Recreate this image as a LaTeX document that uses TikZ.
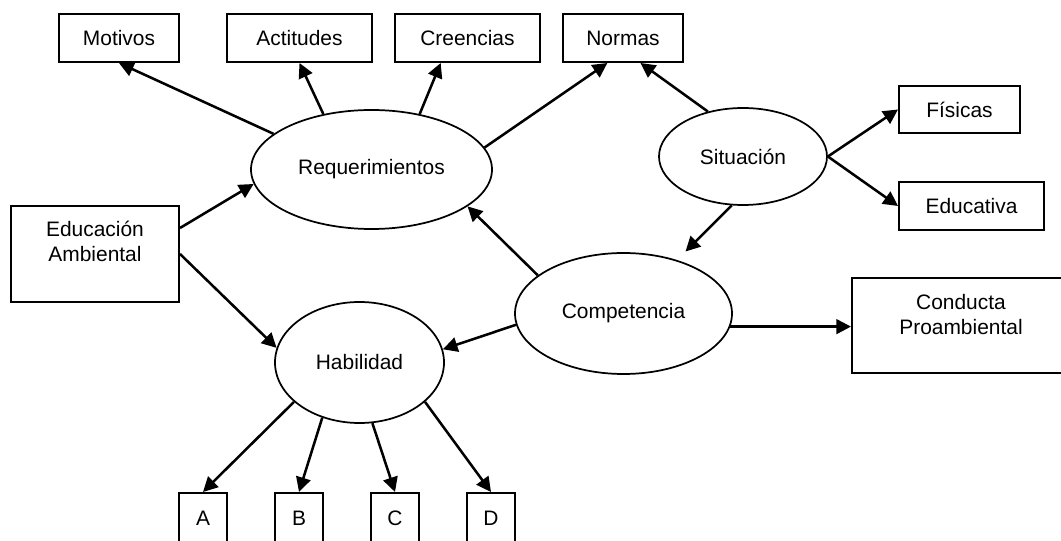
\documentclass[tikz,border=0pt]{standalone}
\usepackage{fontspec}
\setmainfont{Liberation Sans}
\usetikzlibrary{shapes.geometric,arrows.meta}

\begin{document}
\begin{tikzpicture}[x=0.75pt,y=-0.75pt,
  font=\fontsize{15.7}{18.75}\selectfont,
  box node/.style={rectangle,draw,line width=1.5pt,inner sep=0pt},
  oval node/.style={ellipse,draw,line width=1.3pt,inner sep=0pt},
  link/.style={line width=1.9pt,-{Triangle[length=11pt,width=11pt]}}]

  \clip (0,0) rectangle (1061,541);

  % top row
  \node[box node,minimum width=90pt,minimum height=36pt] (mot) at (119,38) {Motivos};
  \node[box node,minimum width=108.75pt,minimum height=36pt] (act) at (299.5,38) {Actitudes};
  \node[box node,minimum width=108.75pt,minimum height=36pt] (cre) at (467.5,38) {Creencias};
  \node[box node,minimum width=90pt,minimum height=36pt] (nor) at (623,38) {Normas};

  % right side
  \node[box node,minimum width=90.75pt,minimum height=35.25pt] (fis) at (959.5,109.5) {Físicas};
  \node[box node,minimum width=108.75pt,minimum height=36pt] (educ) at (971.5,206) {Educativa};
  \node[box node,minimum width=163.5pt,minimum height=71.25pt] (con) at (961,325.5) {};
  \node[align=center] (contxt) at (961,314.5) {Conducta\\Proambiental};

  % left side
  \node[box node,minimum width=126pt,minimum height=72pt] (eduamb) at (95,254) {};
  \node[align=center] (eduambtxt) at (95,241) {Educación\\Ambiental};

  % ovals
  \node[oval node,minimum width=180.75pt,minimum height=89.25pt] (req) at (371.5,169.5) {Requerimientos};
  \node[oval node,minimum width=126pt,minimum height=72.75pt] (sit) at (743,156.5) {Situación};
  \node[oval node,minimum width=162.75pt,minimum height=90.75pt] (comp) at (623.5,313.5) {Competencia};
  \node[oval node,minimum width=126.75pt,minimum height=90.75pt] (hab) at (359.5,362.5) {Habilidad};

  % bottom row
  \node[box node,minimum width=36pt,minimum height=37.5pt] (a) at (203,518) {A};
  \node[box node,minimum width=36pt,minimum height=37.5pt] (b) at (299,518) {B};
  \node[box node,minimum width=36pt,minimum height=37.5pt] (c) at (395,518) {C};
  \node[box node,minimum width=36pt,minimum height=37.5pt] (d) at (491,518) {D};

  \path[link]
    (req.160) edge (mot.south)
    (req.131) edge (act.south)
    (req.49) edge (cre.223)
    (req.11) edge (nor.238)
    (sit.128) edge (nor.305)
    (sit.east) edge (fis.west)
    (sit.east) edge (educ.west)
    (sit.257) edge[shorten >=9pt] (comp.45)
    (comp.156) edge (req.339)
    (comp.186) edge (hab.9)
    (comp.353) edge (comp.353 -| con.west)
    (eduamb.17) edge (req.187)
    (eduamb.east) edge (hab.170)
    (hab.211) edge (a.north)
    (hab.236) edge (b.north)
    (hab.282) edge (c.north)
    (hab.329) edge (d.north);
\end{tikzpicture}
\end{document}
